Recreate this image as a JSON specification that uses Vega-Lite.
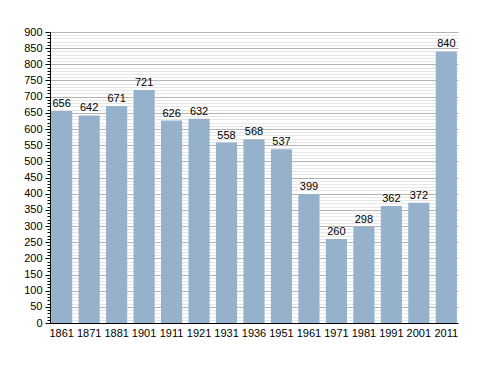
{
  "$schema": "https://vega.github.io/schema/vega-lite/v6.json",
  "width": 408,
  "height": 291,
  "autosize": {"type": "none"},
  "padding": {"left": 50, "top": 32, "right": 30, "bottom": 50},
  "background": "white",
  "config": {
    "view": {"stroke": null},
    "font": "Liberation Sans",
    "axis": {"labelFont": "Liberation Sans", "labelFontSize": 11, "labelColor": "#000"}
  },
  "data": {
    "values": [
      {"year": "1861", "pop": 656},
      {"year": "1871", "pop": 642},
      {"year": "1881", "pop": 671},
      {"year": "1901", "pop": 721},
      {"year": "1911", "pop": 626},
      {"year": "1921", "pop": 632},
      {"year": "1931", "pop": 558},
      {"year": "1936", "pop": 568},
      {"year": "1951", "pop": 537},
      {"year": "1961", "pop": 399},
      {"year": "1971", "pop": 260},
      {"year": "1981", "pop": 298},
      {"year": "1991", "pop": 362},
      {"year": "2001", "pop": 372},
      {"year": "2011", "pop": 840}
    ]
  },
  "encoding": {
    "x": {
      "field": "year",
      "type": "nominal",
      "sort": null,
      "scale": {"paddingInner": 0.23, "paddingOuter": 0.04},
      "axis": {
        "title": null,
        "labelAngle": 0,
        "ticks": false,
        "labelPadding": 4,
        "domainColor": "#000",
        "domainWidth": 1
      }
    },
    "y": {
      "field": "pop",
      "type": "quantitative",
      "scale": {"domain": [0, 900], "nice": false},
      "axis": {
        "title": null,
        "values": [0,10,20,30,40,50,60,70,80,90,100,110,120,130,140,150,160,170,180,190,200,210,220,230,240,250,260,270,280,290,300,310,320,330,340,350,360,370,380,390,400,410,420,430,440,450,460,470,480,490,500,510,520,530,540,550,560,570,580,590,600,610,620,630,640,650,660,670,680,690,700,710,720,730,740,750,760,770,780,790,800,810,820,830,840,850,860,870,880,890,900],
        "labelExpr": "datum.value % 50 === 0 ? datum.label : ''",
        "grid": true,
        "gridColor": {"condition": {"test": "datum.value % 50 === 0", "value": "#b4b4b4"}, "value": "#e6e6e6"},
        "gridWidth": 1,
        "tickColor": "#000",
        "tickSize": {"condition": {"test": "datum.value % 50 === 0", "value": 5}, "value": 3},
        "domainColor": "#000",
        "labelPadding": 3,
        "labelOverlap": false
      }
    }
  },
  "layer": [
    {"mark": {"type": "bar", "color": "#96b1cc"}},
    {
      "mark": {"type": "text", "baseline": "bottom", "dy": -2, "fontSize": 11, "color": "#000", "font": "Liberation Sans"},
      "encoding": {"text": {"field": "pop", "type": "quantitative"}}
    }
  ]
}
